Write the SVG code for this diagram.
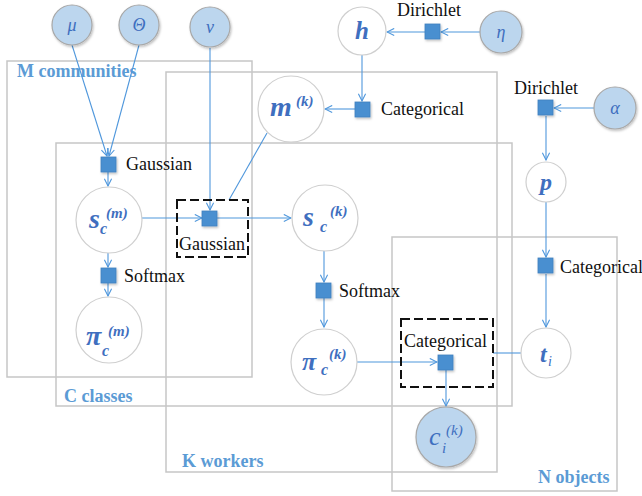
<svg xmlns="http://www.w3.org/2000/svg" width="642" height="496" viewBox="0 0 642 496">
<defs>
<style>
.plate{fill:none;stroke:#c6c6c6;stroke-width:1.5}
text{font-family:'Liberation Serif','Times New Roman',Times,'DejaVu Serif',serif}
.plabel{font-weight:bold;font-size:18px;fill:#5b9bd5}
.lbl{font-size:18px;fill:#111}
.obs{fill:#bcd6ee;stroke:#a8a8a8;stroke-width:1.2}
.lat{fill:#fff;stroke:#cfcfcf;stroke-width:1.2}
.m{font-style:italic;fill:#3f6fbf}
.mb{font-style:italic;font-weight:bold;fill:#3f6fbf}
.fac{fill:#4a8fd0;stroke:#3f7fbf;stroke-width:0.8}
.dash{fill:none;stroke:#111;stroke-width:2;stroke-dasharray:9,4}
.e{fill:none;stroke:#4f97dc;stroke-width:1.1}
</style>
<marker id="arr" viewBox="0 0 10 10" refX="9" refY="5" markerWidth="9" markerHeight="9" markerUnits="userSpaceOnUse" orient="auto">
<path d="M1,1 L9,5 L1,9" fill="none" stroke="#4f97dc" stroke-width="1.2"/>
</marker>
<filter id="sh" x="-20%" y="-20%" width="150%" height="150%">
<feDropShadow dx="1" dy="1.5" stdDeviation="1.2" flood-color="#000" flood-opacity="0.25"/>
</filter>
</defs>
<rect width="642" height="496" fill="#fff"/>

<g id="plates">
<rect class="plate" x="7" y="61" width="245" height="316"/>
<rect class="plate" x="166" y="72" width="331" height="400"/>
<rect class="plate" x="56" y="143" width="456" height="263"/>
<rect class="plate" x="392" y="237" width="225" height="254"/>
<text class="plabel" x="17" y="77" font-family="Liberation Serif, serif">M communities</text>
<text class="plabel" x="64" y="402" font-family="Liberation Serif, serif">C classes</text>
<text class="plabel" x="182" y="467" font-family="Liberation Serif, serif">K workers</text>
<text class="plabel" x="538" y="483" font-family="Liberation Serif, serif">N objects</text>
</g>

<g id="connectors">
<line class="e" x1="72" y1="45" x2="107" y2="156" marker-end="url(#arr)"/>
<line class="e" x1="139" y1="45" x2="109" y2="156" marker-end="url(#arr)"/>
<line class="e" x1="108" y1="172" x2="108" y2="186" marker-end="url(#arr)"/>
<line class="e" x1="142" y1="218" x2="202" y2="218" marker-end="url(#arr)"/>
<line class="e" x1="210" y1="48" x2="210" y2="210" marker-end="url(#arr)"/>
<line class="e" x1="267" y1="133" x2="229" y2="200"/>
<line class="e" x1="217" y1="218" x2="291" y2="218" marker-end="url(#arr)"/>
<line class="e" x1="108" y1="253" x2="108" y2="267" marker-end="url(#arr)"/>
<line class="e" x1="108" y1="283" x2="108" y2="296" marker-end="url(#arr)"/>
<line class="e" x1="324" y1="251" x2="324" y2="282" marker-end="url(#arr)"/>
<line class="e" x1="324" y1="298" x2="324" y2="327" marker-end="url(#arr)"/>
<line class="e" x1="357" y1="362" x2="437" y2="362" marker-end="url(#arr)"/>
<line class="e" x1="446" y1="370" x2="446" y2="406" marker-end="url(#arr)"/>
<line class="e" x1="521" y1="353" x2="493" y2="353"/>
<line class="e" x1="480" y1="32" x2="441" y2="32" marker-end="url(#arr)"/>
<line class="e" x1="425" y1="32" x2="387" y2="32" marker-end="url(#arr)"/>
<line class="e" x1="362" y1="55" x2="362" y2="101" marker-end="url(#arr)"/>
<line class="e" x1="355" y1="109" x2="325" y2="109" marker-end="url(#arr)"/>
<line class="e" x1="594" y1="108" x2="554" y2="108" marker-end="url(#arr)"/>
<line class="e" x1="546" y1="116" x2="546" y2="160" marker-end="url(#arr)"/>
<line class="e" x1="546" y1="202" x2="546" y2="257" marker-end="url(#arr)"/>
<line class="e" x1="546" y1="274" x2="546" y2="327" marker-end="url(#arr)"/>
</g>

<g id="mu"><circle class="obs" cx="72" cy="25" r="20" filter="url(#sh)"/><text class="m" x="72" y="31" font-size="18" text-anchor="middle">μ</text></g>
<g id="theta"><circle class="obs" cx="139" cy="25" r="20" filter="url(#sh)"/><text class="m" x="139" y="31" font-size="18" text-anchor="middle">Θ</text></g>
<g id="v"><circle class="obs" cx="210" cy="27" r="20" filter="url(#sh)"/><text class="m" x="210" y="33" font-size="18" text-anchor="middle">v</text></g>
<g id="eta"><circle class="obs" cx="501" cy="32" r="21" filter="url(#sh)"/><text class="m" x="501" y="38" font-size="18" text-anchor="middle">η</text></g>
<g id="alpha"><circle class="obs" cx="615" cy="108" r="21" filter="url(#sh)"/><text class="m" x="615" y="114" font-size="18" text-anchor="middle">α</text></g>

<g id="h"><circle class="lat" cx="362" cy="31" r="24"/><text class="mb" x="362" y="39" font-size="25" text-anchor="middle">h</text></g>
<g id="dirichlet1"><rect class="fac" x="425" y="24" width="15" height="15" filter="url(#sh)"/><text class="lbl" x="397" y="16">Dirichlet</text></g>
<g id="categorical1"><rect class="fac" x="355" y="102" width="15" height="15" filter="url(#sh)"/><text class="lbl" x="381" y="115">Categorical</text></g>
<g id="mk"><circle class="lat" cx="291" cy="109" r="33"/><text class="mb" x="270" y="116" font-size="28">m</text><text class="mb" x="296" y="106" font-size="15">(k)</text></g>
<g id="dirichlet2"><rect class="fac" x="538" y="100" width="15" height="15" filter="url(#sh)"/><text class="lbl" x="514" y="94">Dirichlet</text></g>
<g id="p"><circle class="lat" cx="546" cy="182" r="20"/><text class="mb" x="546" y="190" font-size="24" text-anchor="middle">p</text></g>
<g id="categorical3"><rect class="fac" x="538" y="258" width="15" height="15" filter="url(#sh)"/><text class="lbl" x="560" y="273">Categorical</text></g>
<g id="ti"><circle class="lat" cx="546" cy="353" r="25"/><text class="mb" x="540" y="362" font-size="24">t</text><text class="m" x="548" y="366" font-size="14">i</text></g>

<g id="gaussian1"><rect class="fac" x="101" y="157" width="15" height="15" filter="url(#sh)"/><text class="lbl" x="126" y="170">Gaussian</text></g>
<g id="scm"><circle class="lat" cx="109" cy="220" r="33"/><text class="mb" x="89" y="228" font-size="28">s</text><text class="mb" x="100" y="234" font-size="16">c</text><text class="mb" x="106" y="218" font-size="15">(m)</text></g>
<g id="softmax1"><rect class="fac" x="101" y="268" width="15" height="15" filter="url(#sh)"/><text class="lbl" x="124" y="282">Softmax</text></g>
<g id="picm"><circle class="lat" cx="109" cy="330" r="33"/><text class="mb" x="86" y="345" font-size="28">π</text><text class="mb" x="102" y="356" font-size="16">c</text><text class="mb" x="108" y="336" font-size="15">(m)</text></g>

<g id="gaussian2"><rect class="dash" x="177" y="200" width="71" height="57"/><rect class="fac" x="202" y="211" width="15" height="15" filter="url(#sh)"/><text class="lbl" x="179" y="250">Gaussian</text></g>
<g id="sck"><circle class="lat" cx="325" cy="218" r="33"/><text class="mb" x="303" y="226" font-size="28">s</text><text class="mb" x="320" y="232" font-size="16">c</text><text class="mb" x="330" y="216" font-size="15">(k)</text></g>
<g id="softmax2"><rect class="fac" x="316" y="283" width="15" height="15" filter="url(#sh)"/><text class="lbl" x="339" y="297">Softmax</text></g>
<g id="pick"><circle class="lat" cx="324" cy="362" r="33"/><text class="mb" x="302" y="370" font-size="26">π</text><text class="mb" x="321" y="375" font-size="16">c</text><text class="mb" x="329" y="359" font-size="15">(k)</text></g>

<g id="categorical2"><rect class="dash" x="401" y="319" width="92" height="68"/><rect class="fac" x="438" y="355" width="15" height="15" filter="url(#sh)"/><text class="lbl" x="404" y="347">Categorical</text></g>
<g id="cik"><circle class="obs" cx="446" cy="437" r="30" filter="url(#sh)"/><text class="m" x="429" y="445" font-size="26">c</text><text class="m" x="442" y="453" font-size="15">i</text><text class="m" x="446" y="435" font-size="15">(k)</text></g>
</svg>
